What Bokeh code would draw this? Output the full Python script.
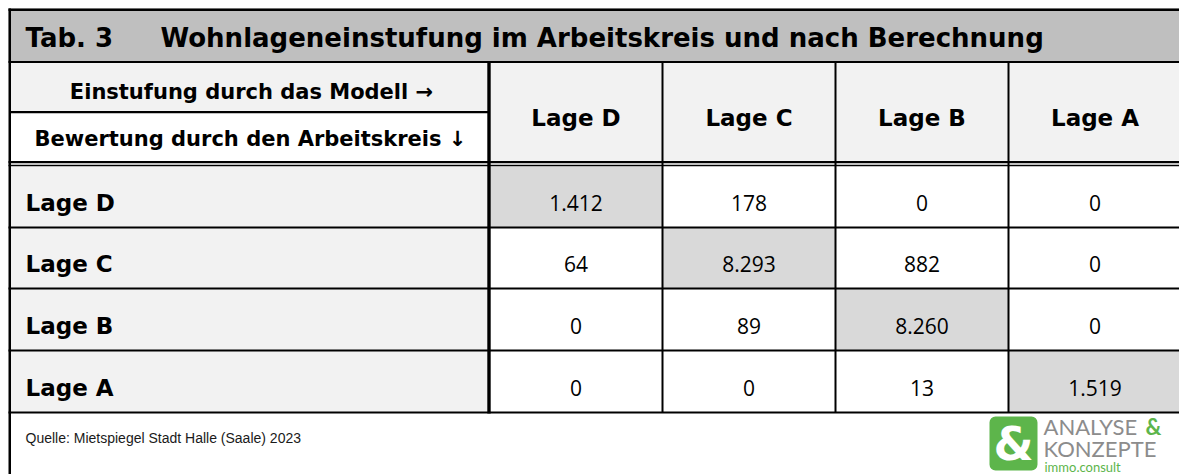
from bokeh.plotting import figure
from bokeh.models import Range1d, ColumnDataSource
from bokeh.core.properties import value
from bokeh.embed import file_html
from bokeh.resources import INLINE

# ---------------- data ----------------
table_no = "Tab. 3"
table_title = "Wohnlageneinstufung im Arbeitskreis und nach Berechnung"
header_model = "Einstufung durch das Modell \u2192"
header_ak = "Bewertung durch den Arbeitskreis \u2193"
col_labels = ["Lage D", "Lage C", "Lage B", "Lage A"]
row_labels = ["Lage D", "Lage C", "Lage B", "Lage A"]
row_lage_d = [1412, 178, 0, 0]
row_lage_c = [64, 8293, 882, 0]
row_lage_b = [0, 89, 8260, 0]
row_lage_a = [0, 0, 13, 1519]
source_note = "Quelle: Mietspiegel Stadt Halle (Saale) 2023"
logo_line1 = "ANALYSE"
logo_amp = "&"
logo_line2 = "KONZEPTE"
logo_line3 = "immo.consult"

rows = [row_lage_d, row_lage_c, row_lage_b, row_lage_a]


def de(v):
    return f"{v:,}".replace(",", ".")


# ---------------- layout ----------------
W, H = 1179, 474
X0, Y0 = 0, 0
X1, Y1 = W, H
BX, BY = 8, 8  # outer border position

col_edges = [489, 662, 835, 1008, 1181]
row_edges = [166, 227, 288, 350, 412]

BOLD = "DejaVu Sans"
NUM = "Open Sans"

p = figure(width=W, height=H, output_backend="svg", toolbar_location=None,
           x_range=Range1d(X0, X1), y_range=Range1d(Y1, Y0),
           min_border=0, outline_line_color=None, background_fill_color="white",
           border_fill_color="white")
p.axis.visible = False
p.grid.visible = False

# fills
p.quad(left=[BX], right=[X1], top=[BY], bottom=[62], fill_color="#BFBFBF", line_color=None)
p.quad(left=[10], right=[X1], top=[62], bottom=[161], fill_color="#F2F2F2", line_color=None)
p.quad(left=[10], right=[488], top=[112], bottom=[161], fill_color="white", line_color=None)
p.quad(left=[10], right=[488], top=[166], bottom=[412], fill_color="#F2F2F2", line_color=None)

cl, cr, ct, cb, cc = [], [], [], [], []
tx, ty, tt = [], [], []
for i, r in enumerate(rows):
    for j, v in enumerate(r):
        cl.append(col_edges[j]); cr.append(col_edges[j + 1])
        ct.append(row_edges[i]); cb.append(row_edges[i + 1])
        cc.append("#D9D9D9" if i == j else "white")
        tx.append((col_edges[j] + col_edges[j + 1]) / 2)
        ty.append((row_edges[i] + row_edges[i + 1]) / 2 + 6)
        tt.append(de(v))
p.quad(left="l", right="r", top="t", bottom="b", fill_color="c", line_color=None,
       source=ColumnDataSource(dict(l=cl, r=cr, t=ct, b=cb, c=cc)))

# lines (as thin black quads)
hl = [(BX, X1, 8, 10.5), (BX, X1, 60.5, 62.5), (10, 488, 110.5, 112.8),
      (BX, X1, 160.5, 162.8), (BX, X1, 164.3, 165.8)]
for y in row_edges[1:]:
    hl.append((BX, X1, y - 1, y + 1))
vl = [(BX, 10.5, 8, Y1), (486.8, 490.2, 62, 413)]
for x in col_edges[1:4]:
    vl.append((x - 1, x + 1, 62, 412))
allq = hl + vl
p.quad(left=[q[0] for q in allq], right=[q[1] for q in allq],
       top=[q[2] for q in allq], bottom=[q[3] for q in allq],
       fill_color="black", line_color=None)

# texts
p.text(x=[25], y=[37], text=[table_no], text_font=value(BOLD), text_font_style="bold",
       text_font_size="26px", text_baseline="middle", text_align="left", text_color="black")
p.text(x=[160], y=[37], text=[table_title], text_font=value(BOLD), text_font_style="bold",
       text_font_size="26px", text_baseline="middle", text_align="left", text_color="black")
p.text(x=[251], y=[91], text=[header_model], text_font=value(BOLD), text_font_style="bold",
       text_font_size="21px", text_baseline="middle", text_align="center", text_color="black")
p.text(x=[250], y=[138], text=[header_ak], text_font=value(BOLD), text_font_style="bold",
       text_font_size="21px", text_baseline="middle", text_align="center", text_color="black")
p.text(x=[(col_edges[j] + col_edges[j + 1]) / 2 for j in range(4)], y=[117] * 4, text=col_labels,
       text_font=value(BOLD), text_font_style="bold", text_font_size="23px",
       text_baseline="middle", text_align="center", text_color="black")
p.text(x=[25] * 4, y=[(row_edges[i] + row_edges[i + 1]) / 2 + 6 for i in range(4)], text=row_labels,
       text_font=value(BOLD), text_font_style="bold", text_font_size="23px",
       text_baseline="middle", text_align="left", text_color="black")
p.text(x=tx, y=ty, text=tt, text_font=value(NUM), text_font_size="21px",
       text_baseline="middle", text_align="center", text_color="black")
p.text(x=[25], y=[437], text=[source_note], text_font=value("Liberation Sans"), text_font_size="14px",
       text_baseline="middle", text_align="left", text_color="#1a1a1a")

# logo
p.quad(left=[989], right=[1037], top=[416], bottom=[470], fill_color="#5DB54B", line_color=None,
       border_radius=6)
p.text(x=[1013], y=[443], text=[logo_amp], text_font=value(BOLD), text_font_style="bold",
       text_font_size="46px", text_baseline="middle", text_align="center", text_color="white")
p.text(x=[1043], y=[426], text=[logo_line1], text_font=value("Lato"), text_font_size="22px",
       text_baseline="middle", text_align="left", text_color="#8C8C8C")
p.text(x=[1145], y=[426], text=[logo_amp], text_font=value("Lato"), text_font_style="bold",
       text_font_size="22px", text_baseline="middle", text_align="left", text_color="#5DB54B")
p.text(x=[1043], y=[448], text=[logo_line2], text_font=value("Lato"), text_font_size="22px",
       text_baseline="middle", text_align="left", text_color="#8C8C8C")
p.text(x=[1044], y=[466], text=[logo_line3], text_font=value("Lato"), text_font_size="13px",
       text_baseline="middle", text_align="left", text_color="#5DB54B")

open("out.html", "w").write(file_html(p, INLINE))
